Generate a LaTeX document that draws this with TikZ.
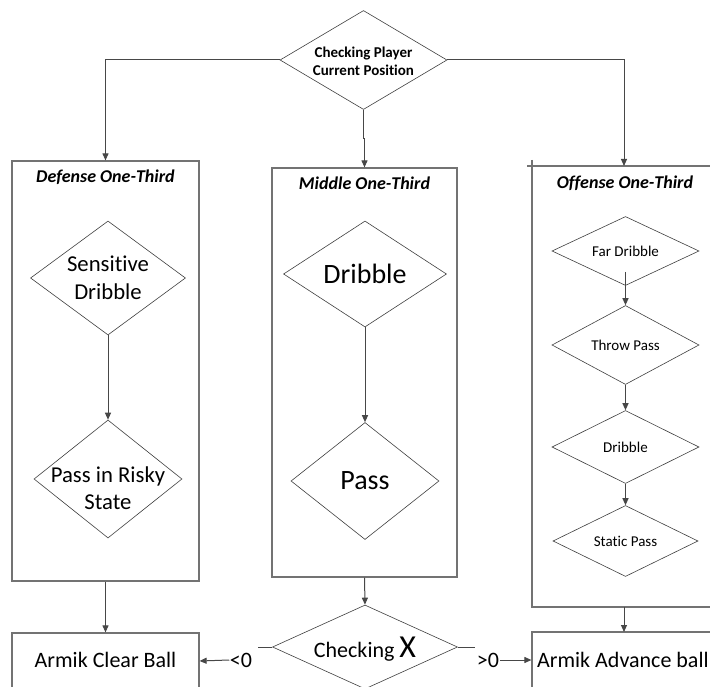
\documentclass[tikz,border=0pt]{standalone}
\usepackage{fontspec}
\setmainfont{Carlito}[Ligatures={NoCommon}]
\usetikzlibrary{shapes.geometric,arrows.meta,calc}
\begin{document}
\begin{tikzpicture}[x=1pt,y=-1pt,
  box/.style={draw=black!55,line width=1.2pt,rectangle,inner sep=0pt},
  dia/.style={draw=black!75,line width=0.6pt,diamond,inner sep=0pt,aspect=1},
  conn/.style={draw=black!72,line width=1pt},
  arr/.style={conn,-{Triangle[length=7pt,width=6pt]}},
  ttl/.style={font=\fontsize{18}{21}\selectfont\bfseries\itshape,inner sep=1pt},
  tbig/.style={font=\fontsize{22.7}{27.5}\selectfont,align=center,inner sep=0pt},
  thuge/.style={font=\fontsize{28}{32}\selectfont,align=center,inner sep=0pt},
  tsmall/.style={font=\fontsize{15}{18}\selectfont,align=center,inner sep=0pt},
  tbox/.style={font=\fontsize{22}{26}\selectfont,inner sep=1pt}
]
\useasboundingbox (0,0) rectangle (710,687);
\clip (0,0) rectangle (710,687);
\fill[white] (0,0) rectangle (710,687);

% top decision
\node[dia,minimum width=167pt,minimum height=99pt] (top) at (363.5,60) {};
\node[tsmall,font=\fontsize{15}{18}\selectfont\bfseries] (topt) at (363.5,61) {Checking Player\\Current Position};

% column boxes
\node[box,minimum width=187pt,minimum height=420pt] (def) at (105.5,371) {};
\node[box,minimum width=185pt,minimum height=409pt] (mid) at (364.5,372.5) {};
\node[box,minimum width=228pt,minimum height=441pt] (off) at (646,386.5) {};
\draw[draw=black!55,line width=1.2pt] (527,166) -- (532,166) (532,160) -- (532,166);

\node[ttl] (dt) at (105.5,177) {Defense One-Third};
\node[ttl] (mt) at (364.5,183) {Middle One-Third};
\node[ttl] (ot) at (625,183) {Offense One-Third};

% defense diamonds
\node[dia,minimum width=155pt,minimum height=114pt] (sd) at (108,278) {};
\node[tbig] (sdt) at (108,278) {Sensitive\\Dribble};
\node[dia,minimum width=148pt,minimum height=118pt] (pr) at (108,479) {};
\node[tbig] (prt) at (108,488) {Pass in Risky\\State};

% middle diamonds
\node[dia,minimum width=163pt,minimum height=106pt] (md) at (365,274) {};
\node[thuge] (mdt) at (365,274) {Dribble};
\node[dia,minimum width=148pt,minimum height=117pt] (mp) at (365,481) {};
\node[thuge] (mpt) at (365,481) {Pass};

% offense diamonds
\node[dia,minimum width=147pt,minimum height=69pt] (fd) at (625.5,251) {};
\node[tsmall] (fdt) at (625.5,251) {Far Dribble};
\node[dia,minimum width=147pt,minimum height=79pt] (tp) at (625.5,345) {};
\node[tsmall] (tpt) at (625.5,345) {Throw Pass};
\node[dia,minimum width=147pt,minimum height=73pt] (od) at (625.5,447) {};
\node[tsmall] (odt) at (625.5,447) {Dribble};
\node[dia,minimum width=145pt,minimum height=71pt] (sp) at (625.5,541) {};
\node[tsmall] (spt) at (625.5,541) {Static Pass};

% bottom
\node[dia,minimum width=185pt,minimum height=84pt] (X) at (365,647) {};
\node[anchor=base,inner sep=0pt] (Xt) at (365,657) {\fontsize{22}{26}\selectfont Checking \fontsize{32}{36}\selectfont X};
\node[box,minimum width=187pt,minimum height=56pt] (clear) at (105.5,661) {};
\node[tbox] (cleart) at (105.5,660) {Armik Clear Ball};
\node[box,minimum width=228pt,minimum height=56pt] (adv) at (646,660) {};
\node[tbox,anchor=west] (advt) at (536,660) {Armik Advance ball};

\node[tbox,inner sep=0.5pt] (lt) at (241,660) {<0};
\node[tbox,inner sep=0.5pt] (gt) at (488,660) {>0};

% coordinates
\coordinate (oftop) at (624,166);
\coordinate (ofbot) at (624,607);
\coordinate (adtop) at (624,632);
\coordinate (fdlow) at (625.5,272);

% connectors
\draw[arr] (top.west) -| (def.north);
\draw[arr] (top.south) -- ++(0,29) -| (mid.north);
\draw[arr] (top.east) -| (oftop);

\draw[arr] (sd.south) -- (pr.north);
\draw[arr] (md.south) -- (mp.north);
\draw[arr] (fdlow) -- (tp.north);
\draw[arr] (tp.south) -- (od.north);
\draw[arr] (od.south) -- (sp.north);

\draw[arr] (def.south) -- (clear.north);
\draw[arr] (mid.south) -- (X.north);
\draw[arr] (ofbot) -- (adtop);

\draw[conn] (X.west) -- ++(-14,0);
\draw[arr] (lt.west) -- (clear.east);
\draw[conn] (X.east) -- ++(17,0);
\draw[arr] (gt.east) -- (adv.west);
\end{tikzpicture}
\end{document}
